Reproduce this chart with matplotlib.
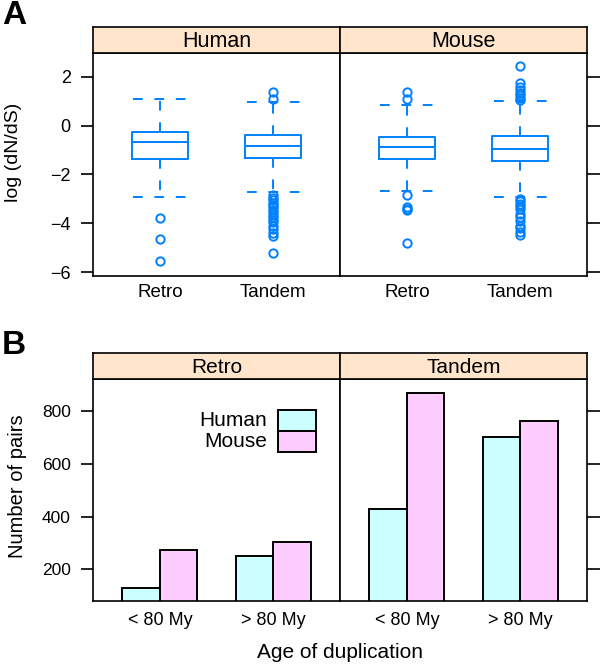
import numpy as np
import matplotlib
matplotlib.use("Agg")
import matplotlib.pyplot as plt
from matplotlib.patches import Rectangle

plt.rcParams['font.family'] = ['Liberation Sans', 'DejaVu Sans']

# ---- Panel A: log(dN/dS) box summaries ----
species = ["Human", "Mouse"]
dup_types = ["Retro", "Tandem"]

# per species: [Retro, Tandem]
box_q1 = {"Human": [-1.35, -1.33], "Mouse": [-1.35, -1.46]}
box_med = {"Human": [-0.67, -0.84], "Mouse": [-0.86, -0.95]}
box_q3 = {"Human": [-0.26, -0.38], "Mouse": [-0.45, -0.42]}
whisk_lo = {"Human": [-2.94, -2.73], "Mouse": [-2.69, -2.94]}
whisk_hi = {"Human": [1.10, 0.98], "Mouse": [0.83, 1.01]}
fliers = {
    "Human": [
        [-3.77, -4.63, -5.54],
        [1.10, 1.40, -2.85, -2.95, -3.05, -3.15, -3.25, -3.35, -3.45, -3.55,
         -3.65, -3.75, -3.85, -3.95, -4.10, -4.25, -4.40, -4.52, -5.20],
    ],
    "Mouse": [
        [1.09, 1.40, -2.84, -3.33, -3.40, -3.47, -4.79],
        [1.06, 1.15, 1.25, 1.35, 1.45, 1.60, 1.74, 2.46, -3.00, -3.10, -3.20,
         -3.30, -3.40, -3.60, -3.75, -3.90, -4.10, -4.20, -4.35, -4.50],
    ],
}

# ---- Panel B: number of pairs by age ----
age_groups = ["< 80 My", "> 80 My"]
pairs_human = {"Retro": [131, 252], "Tandem": [429, 701]}
pairs_mouse = {"Retro": [274, 302], "Tandem": [868, 763]}

BLUE = "#0080ff"
STRIP = "#ffe5cc"
CYAN = "#ccffff"
PINK = "#ffccff"

W, H = 600, 668
fig = plt.figure(figsize=(6, 6.68), dpi=100)


def frac(x0, y0, x1, y1):
    # pixel box (top-left origin) -> figure fraction rect
    return [x0 / W, 1 - y1 / H, (x1 - x0) / W, (y1 - y0) / H]


def add_strip(x0, x1, y0, y1, label, size):
    sax = fig.add_axes(frac(x0, y0, x1, y1))
    sax.set_facecolor(STRIP)
    sax.set_xticks([])
    sax.set_yticks([])
    for s in sax.spines.values():
        s.set_linewidth(1.2)
    sax.text(0.5, 0.45, label, ha="center", va="center", fontsize=size,
             transform=sax.transAxes)


def style_panel(ax, left, right, xsize, ysize, xpad):
    for s in ax.spines.values():
        s.set_linewidth(1.2)
    ax.tick_params(axis="x", length=0, labelsize=xsize, pad=xpad)
    ax.tick_params(axis="y", length=9, width=1.2, labelsize=ysize, direction="out",
                   left=left, labelleft=left, right=right, labelright=False, pad=7)


# ---------------- Panel A ----------------
xa = [93, 340, 587]
for i, sp in enumerate(species):
    ax = fig.add_axes(frac(xa[i], 52.5, xa[i + 1], 276))
    stats = []
    for j, dt in enumerate(dup_types):
        stats.append(dict(med=box_med[sp][j], q1=box_q1[sp][j], q3=box_q3[sp][j],
                          whislo=whisk_lo[sp][j], whishi=whisk_hi[sp][j],
                          fliers=fliers[sp][j], label=dt))
    dash = (0, (5, 6))
    ax.bxp(stats, positions=[1, 2], widths=0.5, capwidths=0.47,
           boxprops=dict(color=BLUE, lw=1.4),
           medianprops=dict(color=BLUE, lw=1.4),
           whiskerprops=dict(color=BLUE, lw=1.4, linestyle=dash),
           capprops=dict(color=BLUE, lw=1.4, linestyle=dash),
           flierprops=dict(marker="o", markerfacecolor="none", markeredgecolor=BLUE,
                           markersize=6, markeredgewidth=1.4))
    ax.set_xlim(0.41, 2.59)
    ax.set_ylim(-6.16, 3.0)
    ax.set_yticks([-6, -4, -2, 0, 2])
    ax.set_xticks([1, 2])
    ax.set_xticklabels(dup_types)
    style_panel(ax, left=(i == 0), right=(i == 1), xsize=13.5, ysize=13, xpad=6)
    add_strip(xa[i], xa[i + 1], 27, 52.5, sp, 15.5)

fig.text(14 / W, 1 - 152 / H, "log (dN/dS)", rotation=90, ha="center", va="center",
         fontsize=14)
fig.text(2 / W, 1 - 16 / H, "A", fontsize=24, fontweight="bold", ha="left", va="center")

# ---------------- Panel B ----------------
bw = 0.33
for i, dt in enumerate(dup_types):
    ax = fig.add_axes(frac(xa[i], 379.3, xa[i + 1], 600.7))
    x = np.arange(1, len(age_groups) + 1)
    ax.bar(x - bw / 2, pairs_human[dt], width=bw, bottom=0, color=CYAN,
           edgecolor="black", linewidth=1.4)
    ax.bar(x + bw / 2, pairs_mouse[dt], width=bw, bottom=0, color=PINK,
           edgecolor="black", linewidth=1.4)
    ax.set_xlim(0.41, 2.59)
    ax.set_ylim(81, 921)
    ax.set_yticks([200, 400, 600, 800])
    ax.set_xticks(x)
    ax.set_xticklabels(age_groups)
    style_panel(ax, left=(i == 0), right=(i == 1), xsize=13, ysize=12.5, xpad=8)
    add_strip(xa[i], xa[i + 1], 352.7, 379.3, dt, 15)

    if i == 0:
        # key, drawn inside the Retro panel
        for k, (name, col) in enumerate([("Human", CYAN), ("Mouse", PINK)]):
            y0 = 0.768 - k * 0.096
            ax.add_patch(Rectangle((0.749, y0), 0.154, 0.093, transform=ax.transAxes,
                                   facecolor=col, edgecolor="black", linewidth=1.4))
            ax.text(0.705, y0 + 0.046, name, transform=ax.transAxes, ha="right",
                    va="center", fontsize=15)

fig.text(18 / W, 1 - 486 / H, "Number of pairs", rotation=90, ha="center", va="center",
         fontsize=14.5)
fig.text(340 / W, 1 - 652 / H, "Age of duplication", ha="center", va="center",
         fontsize=15)
fig.text(2 / W, 1 - 345 / H, "B", fontsize=24, fontweight="bold", ha="left", va="center")

fig.savefig("out.png", dpi=100)
